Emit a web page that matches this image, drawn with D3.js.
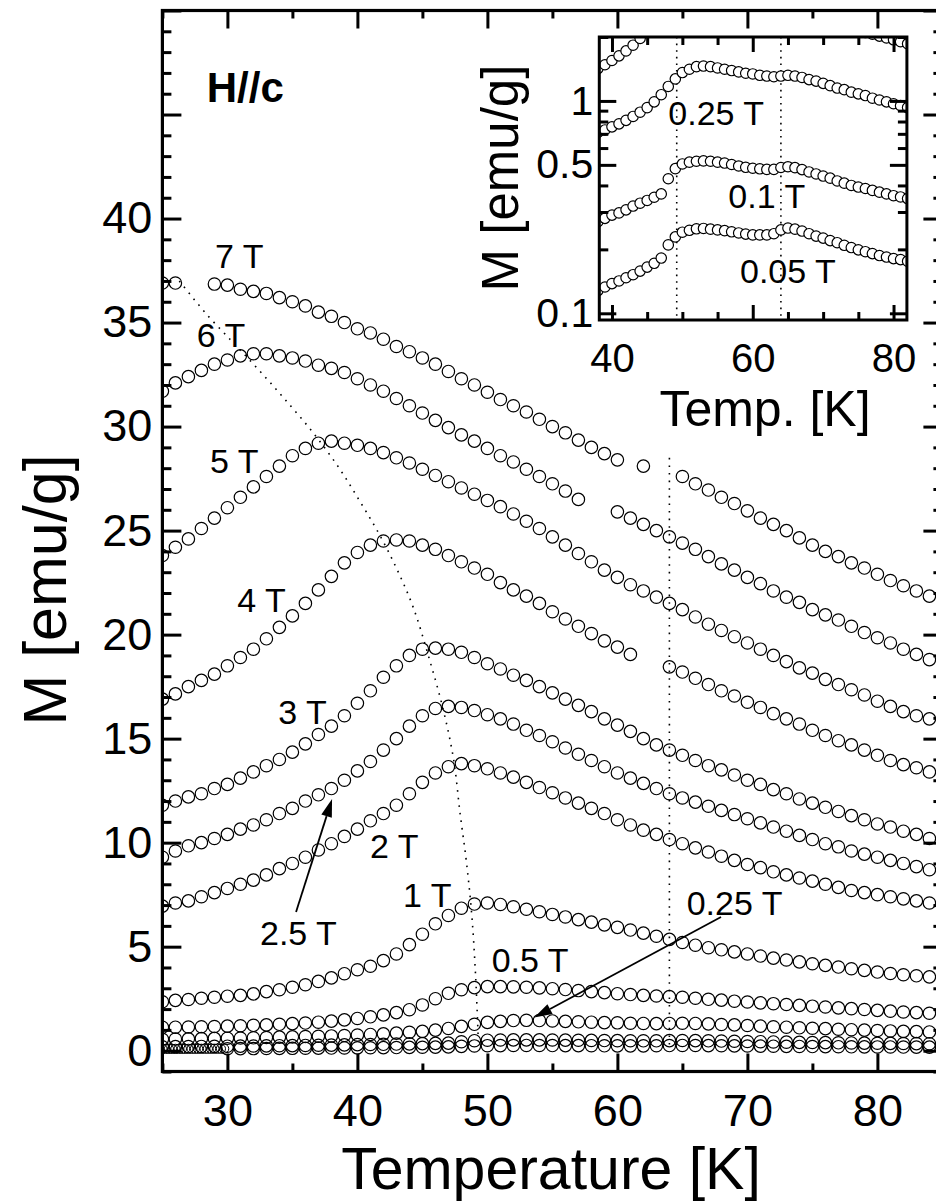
<!DOCTYPE html>
<html>
<head>
<meta charset="utf-8">
<script src="https://cdn.jsdelivr.net/npm/d3@7/dist/d3.min.js"></script>
<style>
  body { margin: 0; background: #fff; }
  svg { display: block; }
  text { font-family: "Liberation Sans", Arial, Helvetica, sans-serif; fill: #000; }
</style>
</head>
<body>
<svg id="chart" width="936" height="1202"></svg>
<script>
// Temperature grid of the magnetization sweeps (K)
const temps = [25,26,27,28,29,30,31,32,33,34,35,36,37,38,39,40,41,42,43,44,
               45,46,47,48,49,50,51,52,53,54,55,56,57,58,59,60,61,62,63,64,
               65,66,67,68,69,70,71,72,73,74,75,76,77,78,79,80,81,82,83,84];

// M (emu/g) for each applied field, H // c; null = no point recorded
const m7T = [36.9,36.9,null,null,36.85,36.8,36.6,36.5,36.4,36.2,36.0,35.8,35.5,35.3,35.0,34.7,34.5,34.2,33.85,33.6,
             33.3,33.0,32.65,32.3,32.0,31.65,31.3,31.0,30.7,30.35,30.0,29.7,29.35,29.0,28.7,28.4,null,28.1,null,null,
             27.6,27.25,26.95,26.6,26.3,25.95,25.6,25.3,25.0,24.65,24.3,24.0,23.75,23.45,23.2,22.9,22.6,22.35,22.1,21.85];
const m6T = [31.7,32.1,32.4,32.7,33.0,33.2,33.4,33.5,33.5,33.4,33.3,33.15,32.95,32.8,32.6,32.3,32.0,31.7,31.35,31.0,
             30.65,30.3,29.95,29.6,29.3,28.95,28.6,28.3,27.95,27.6,27.25,26.9,26.5,null,null,25.9,25.6,25.3,25.0,24.7,
             24.4,24.1,23.75,23.4,23.1,22.75,22.45,22.1,21.8,21.55,21.2,20.95,20.7,20.4,20.1,19.85,19.6,19.3,19.05,18.8];
const m5T = [23.8,24.2,24.6,25.1,25.6,26.1,26.6,27.1,27.6,28.1,28.6,28.95,29.2,29.3,29.2,29.1,28.95,28.75,28.5,28.25,
             27.95,27.65,27.35,27.05,26.75,26.45,26.15,25.8,25.45,25.1,24.7,24.3,23.9,23.5,23.1,22.75,22.4,22.1,21.8,21.5,
             21.2,20.85,20.5,20.2,19.9,19.6,19.3,19.0,18.7,18.4,18.15,17.85,17.6,17.35,17.1,16.8,16.55,16.3,16.1,15.95];
const m4T = [16.9,17.15,17.5,17.8,18.1,18.5,18.9,19.3,19.8,20.35,20.9,21.5,22.15,22.8,23.45,23.95,24.3,24.5,24.55,24.5,
             24.3,24.1,23.8,23.5,23.2,22.9,22.5,22.15,21.85,21.5,21.1,20.75,20.4,20.05,19.7,19.4,19.05,null,null,18.45,
             18.2,17.9,17.6,17.3,17.05,16.75,16.5,16.2,15.95,15.7,15.4,15.15,14.9,14.7,14.45,14.2,13.95,13.75,13.6,13.4];
const m3T = [11.8,12.0,12.2,12.35,12.6,12.8,13.1,13.4,13.7,14.0,14.35,14.75,15.2,15.6,16.1,16.7,17.3,17.95,18.5,19.0,
             19.3,19.35,19.3,19.15,18.9,18.6,18.35,18.05,17.8,17.5,17.2,16.9,16.6,16.3,15.95,15.65,15.35,15.0,14.7,14.45,
             14.2,13.95,13.7,13.5,13.25,13.0,12.8,12.55,12.35,12.1,11.9,11.7,11.5,11.3,11.1,10.9,10.75,10.55,10.4,10.2];
const m2p5T = [9.3,9.6,9.85,10.0,10.2,10.4,10.65,10.85,11.1,11.4,11.65,12.0,12.3,12.6,13.0,13.45,13.9,14.45,15.0,15.6,
               16.1,16.45,16.55,16.5,16.35,16.15,15.95,15.7,15.4,15.15,14.85,14.55,14.25,13.95,13.65,13.35,13.1,12.85,12.6,12.35,
               12.15,11.95,11.75,11.55,11.35,11.15,10.95,10.75,10.55,10.35,10.15,9.95,9.8,9.6,9.45,9.3,9.15,9.0,8.85,8.7];
const m2T = [6.95,7.1,7.2,7.4,7.6,7.8,8.0,8.2,8.45,8.75,9.0,9.3,9.65,9.95,10.3,10.65,11.05,11.4,11.8,12.35,
             12.9,13.35,13.65,13.8,13.7,13.55,13.35,13.15,12.9,12.65,12.4,12.15,11.9,11.65,11.4,11.1,10.85,10.6,10.4,10.15,
             9.95,9.75,9.55,9.35,9.15,8.95,8.8,8.6,8.45,8.3,8.15,8.0,7.85,7.7,7.6,7.5,7.4,7.3,7.2,7.1];
const m1T = [2.35,2.42,2.46,2.52,2.57,2.62,2.66,2.73,2.84,2.93,3.05,3.17,3.33,3.5,3.7,3.89,4.06,4.33,4.65,5.1,
             5.6,6.1,6.5,6.85,7.05,7.1,7.03,6.92,6.8,6.68,6.55,6.43,6.3,6.18,6.05,5.93,5.8,5.65,5.5,5.35,
             5.2,5.07,4.95,4.85,4.75,4.65,4.55,4.45,4.36,4.27,4.18,4.1,4.02,3.94,3.86,3.78,3.71,3.65,3.6,3.55];
const m0p5T = [1.13,1.13,1.14,1.15,1.16,1.18,1.2,1.22,1.24,1.27,1.3,1.33,1.37,1.42,1.48,1.55,1.63,1.72,1.83,1.97,
               2.2,2.5,2.76,2.93,3.03,3.08,3.08,3.07,3.05,3.02,2.98,2.94,2.89,2.84,2.79,2.74,2.7,2.66,2.63,2.6,
               2.57,2.52,2.47,2.43,2.38,2.34,2.3,2.26,2.22,2.18,2.14,2.1,2.06,2.02,1.98,1.94,1.9,1.86,1.83,1.8];
const m0p25T = [0.55,0.56,0.57,0.58,0.59,0.6,0.61,0.62,0.635,0.65,0.665,0.68,0.695,0.71,0.73,0.755,0.78,0.81,0.845,0.885,
                0.93,0.99,1.07,1.17,1.27,1.36,1.41,1.45,1.46,1.45,1.43,1.41,1.39,1.37,1.35,1.34,1.32,1.31,1.3,1.31,
                1.32,1.31,1.29,1.26,1.24,1.21,1.18,1.15,1.13,1.1,1.08,1.06,1.03,1.01,0.99,0.97,0.95,0.93,0.915,0.9];
const m0p1T = [0.19,0.195,0.2,0.205,0.21,0.215,0.22,0.225,0.232,0.239,0.246,0.253,0.261,0.27,0.28,0.29,0.297,0.307,0.32,0.33,
               0.34,0.352,0.365,0.43,0.48,0.505,0.515,0.52,0.522,0.52,0.515,0.51,0.502,0.494,0.487,0.482,0.479,0.476,0.476,0.486,
               0.49,0.485,0.475,0.463,0.453,0.443,0.433,0.42,0.41,0.4,0.393,0.387,0.379,0.372,0.365,0.358,0.353,0.347,0.342,0.337];
const m0p05T = [null,null,null,null,null,0.096,0.099,0.102,0.106,0.11,0.114,0.118,0.123,0.128,0.133,0.138,0.142,0.147,0.152,0.158,
                0.165,0.172,0.182,0.21,0.229,0.241,0.246,0.25,0.251,0.249,0.247,0.245,0.242,0.239,0.236,0.234,0.234,0.234,0.237,0.247,
                0.252,0.249,0.244,0.237,0.231,0.226,0.22,0.215,0.209,0.204,0.199,0.195,0.191,0.187,0.184,0.181,0.179,0.176,0.174,0.172];
// 0.05 T start of the sweep, recorded with a finer temperature step
const fineT = [25.0,25.25,25.5,25.75,26.0,26.25,26.5,26.75,27.0,27.25,27.5,27.75,28.0,28.25,28.5,28.75,29.0,29.25,29.5,29.75];
const m0p05TFine = [0.085,0.085,0.086,0.086,0.087,0.087,0.088,0.088,0.089,0.089,0.09,0.09,0.091,0.091,0.092,0.092,0.093,0.093,0.094,0.095];

const mainSeries = [m7T, m6T, m5T, m4T, m3T, m2p5T, m2T, m1T, m0p5T, m0p25T, m0p1T, m0p05T];
const insetSeries = [m0p5T, m0p25T, m0p1T, m0p05T];

// Locus of the magnetization maxima (guide to the eye)
const peakLocusT = [26.3,28.4,30.5,32.3,34.3,36.6,38.6,40.2,41.7,43.0,44.3,45.5,46.6,47.4,47.9,48.4,48.8,49.1,49.3];
const peakLocusM = [37.0,35.4,34.0,32.8,31.4,29.7,28.0,26.4,24.8,23.2,21.3,18.9,16.4,14.0,11.4,9.0,6.5,3.5,0.5];
// Second transition (K) and its extent in M
const transitionT = [49.2, 64];
const mainVerticalT = 64, mainVerticalM = [0.2, 28.5];

// Axis ticks
const xMajor = [30,40,50,60,70,80];
const xMinor = [25,35,45,55,65,75,85];
const yMajor = [0,5,10,15,20,25,30,35,40,45,50];
const yLabelled = [0,5,10,15,20,25,30,35,40];
const yMinor = d3.range(-1, 51).filter(v => v % 5 !== 0);
const insetXMajor = [40,60,80];
const insetXMinor = [45,50,55,65,70,75];
const insetYMajor = [0.1,0.5,1];
const insetYMinor = [0.2,0.3,0.4,0.6,0.7,0.8,0.9,2];

// Field annotations (data coordinates of text start / baseline)
const fieldLabels = [
  {text:"7 T", T:29.05, M:37.62}, {text:"6 T", T:27.64, M:33.84},
  {text:"5 T", T:28.66, M:27.78}, {text:"4 T", T:30.76, M:21.10},
  {text:"3 T", T:33.92, M:15.70}, {text:"2.5 T", T:32.51, M:5.08},
  {text:"2 T", T:40.97, M:9.25}, {text:"1 T", T:43.51, M:6.92},
  {text:"0.5 T", T:50.33, M:3.76}, {text:"0.25 T", T:65.33, M:6.52}
];
const arrows = [
  {from:[35.28, 6.67], to:[38.05, 12.10]},
  {from:[67.97, 6.43], to:[53.6, 1.59]}
];
const insetLabels = [
  {text:"0.25 T", T:48.0, M:0.77}, {text:"0.1 T", T:56.53, M:0.312}, {text:"0.05 T", T:58.19, M:0.1384}
];

const svg = d3.select("#chart");

// ---------- main panel ----------
const x = d3.scaleLinear().domain([25, 85]).range([162.4, 942.4]);
const y = d3.scaleLinear().domain([-1, 50]).range([1071.5, 10.5]);

const defs = svg.append("defs");
defs.append("clipPath").attr("id", "mainClip")
  .append("rect").attr("x", x(25)).attr("y", y(50)).attr("width", x(85) - x(25)).attr("height", y(-1) - y(50));

const plot = svg.append("g").attr("clip-path", "url(#mainClip)");

mainSeries.forEach(vals => {
  const pts = temps.map((t, i) => ({t, m: vals[i]})).filter(d => d.m !== null);
  plot.append("g").selectAll("circle").data(pts).join("circle")
    .attr("cx", d => x(d.t)).attr("cy", d => y(d.m)).attr("r", 6.2)
    .attr("fill", "none").attr("stroke", "#000").attr("stroke-width", 1.2);
});
plot.append("g").selectAll("circle").data(fineT.map((t, i) => ({t, m: m0p05TFine[i]}))).join("circle")
  .attr("cx", d => x(d.t)).attr("cy", d => y(d.m)).attr("r", 4.6)
  .attr("fill", "none").attr("stroke", "#000").attr("stroke-width", 1.0);

// dotted guides
plot.append("path")
  .datum(peakLocusT.map((t, i) => [t, peakLocusM[i]]))
  .attr("d", d3.line().x(d => x(d[0])).y(d => y(d[1])).curve(d3.curveCatmullRom))
  .attr("fill", "none").attr("stroke", "#000").attr("stroke-width", 1.6)
  .attr("stroke-dasharray", "1.6 6");
plot.append("line")
  .attr("x1", x(mainVerticalT)).attr("x2", x(mainVerticalT))
  .attr("y1", y(mainVerticalM[1])).attr("y2", y(mainVerticalM[0]))
  .attr("stroke", "#000").attr("stroke-width", 1.6).attr("stroke-dasharray", "1.6 6");

// axes with inward ticks on all four sides
function styleAxis(g, fontSize) {
  g.select(".domain").remove();
  g.selectAll(".tick line").attr("stroke", "#000").attr("stroke-width", 3);
  g.selectAll(".tick text").attr("font-size", fontSize).attr("fill", "#000");
}
const tickFont = 45;
svg.append("g").attr("transform", `translate(0,${y(-1)})`)
  .call(d3.axisBottom(x).tickValues(xMajor).tickSize(-18).tickPadding(22.5).tickFormat(d3.format("d")))
  .call(g => styleAxis(g, tickFont));
svg.append("g").attr("transform", `translate(0,${y(-1)})`)
  .call(d3.axisBottom(x).tickValues(xMinor).tickSize(-8).tickFormat(""))
  .call(g => styleAxis(g, tickFont));
svg.append("g").attr("transform", `translate(0,${y(50)})`)
  .call(d3.axisTop(x).tickValues(xMajor).tickSize(-18).tickFormat(""))
  .call(g => styleAxis(g, tickFont));
svg.append("g").attr("transform", `translate(0,${y(50)})`)
  .call(d3.axisTop(x).tickValues(xMinor).tickSize(-8).tickFormat(""))
  .call(g => styleAxis(g, tickFont));
svg.append("g").attr("transform", `translate(${x(25)},0)`)
  .call(d3.axisLeft(y).tickValues(yMajor).tickSize(-19).tickPadding(10)
    .tickFormat(d => yLabelled.includes(d) ? d3.format("d")(d) : ""))
  .call(g => styleAxis(g, tickFont));
svg.append("g").attr("transform", `translate(${x(25)},0)`)
  .call(d3.axisLeft(y).tickValues(yMinor).tickSize(-9).tickFormat(""))
  .call(g => styleAxis(g, tickFont));
svg.append("g").attr("transform", `translate(${x(85)},0)`)
  .call(d3.axisRight(y).tickValues(yMajor).tickSize(-19).tickFormat(""))
  .call(g => styleAxis(g, tickFont));
svg.append("g").attr("transform", `translate(${x(85)},0)`)
  .call(d3.axisRight(y).tickValues(yMinor).tickSize(-9).tickFormat(""))
  .call(g => styleAxis(g, tickFont));

svg.append("rect")
  .attr("x", x(25)).attr("y", y(50)).attr("width", x(85) - x(25)).attr("height", y(-1) - y(50))
  .attr("fill", "none").attr("stroke", "#000").attr("stroke-width", 3.2);

svg.append("text").attr("x", 551).attr("y", 1189).attr("text-anchor", "middle")
  .attr("font-size", 59).text("Temperature [K]");
svg.append("text").attr("transform", "translate(66,590) rotate(-90)").attr("text-anchor", "middle")
  .attr("font-size", 61).text("M [emu/g]");

svg.append("text").attr("x", x(28.41)).attr("y", y(45.62))
  .attr("font-size", 42).attr("font-weight", "bold").text("H//c");

svg.append("g").selectAll("text").data(fieldLabels).join("text")
  .attr("x", d => x(d.T)).attr("y", d => y(d.M)).attr("font-size", 34).text(d => d.text);

// arrows with filled heads
arrows.forEach(a => {
  const x1 = x(a.from[0]), y1 = y(a.from[1]), x2 = x(a.to[0]), y2 = y(a.to[1]);
  const ang = Math.atan2(y2 - y1, x2 - x1), len = 18, half = 5.5;
  const bx = x2 - len * Math.cos(ang), by = y2 - len * Math.sin(ang);
  svg.append("line").attr("x1", x1).attr("y1", y1).attr("x2", bx).attr("y2", by)
    .attr("stroke", "#000").attr("stroke-width", 1.8);
  const px = -Math.sin(ang) * half, py = Math.cos(ang) * half;
  svg.append("path").attr("d", `M${x2},${y2}L${bx + px},${by + py}L${bx - px},${by - py}Z`).attr("fill", "#000");
});

// ---------- inset (log scale) ----------
const xi = d3.scaleLinear().domain([38.2, 81.9]).range([599.3, 906.9]);
const yi = d3.scaleLog().domain([0.093, 2.0]).range([320, 37]);

svg.append("rect").attr("x", xi(38.2)).attr("y", yi(2)).attr("width", xi(81.9) - xi(38.2))
  .attr("height", yi(0.093) - yi(2)).attr("fill", "#fff");
defs.append("clipPath").attr("id", "insetClip")
  .append("rect").attr("x", xi(38.2)).attr("y", yi(2)).attr("width", xi(81.9) - xi(38.2))
  .attr("height", yi(0.093) - yi(2));
const inset = svg.append("g").attr("clip-path", "url(#insetClip)");

transitionT.forEach(t => {
  inset.append("line").attr("x1", xi(t)).attr("x2", xi(t)).attr("y1", yi(2)).attr("y2", yi(0.093))
    .attr("stroke", "#000").attr("stroke-width", 1.6).attr("stroke-dasharray", "1.6 5");
});
insetSeries.forEach(vals => {
  const pts = temps.map((t, i) => ({t, m: vals[i]})).filter(d => d.m !== null && d.t >= 37);
  inset.append("g").selectAll("circle").data(pts).join("circle")
    .attr("cx", d => xi(d.t)).attr("cy", d => yi(d.m)).attr("r", 5.2)
    .attr("fill", "#fff").attr("stroke", "#000").attr("stroke-width", 1.2);
});

const insetFont = 40;
svg.append("g").attr("transform", `translate(0,${yi(0.093)})`)
  .call(d3.axisBottom(xi).tickValues(insetXMajor).tickSize(-15).tickPadding(24).tickFormat(d3.format("d")))
  .call(g => styleAxis(g, insetFont));
svg.append("g").attr("transform", `translate(0,${yi(0.093)})`)
  .call(d3.axisBottom(xi).tickValues(insetXMinor).tickSize(-8).tickFormat(""))
  .call(g => styleAxis(g, insetFont));
svg.append("g").attr("transform", `translate(0,${yi(2)})`)
  .call(d3.axisTop(xi).tickValues(insetXMajor).tickSize(-15).tickFormat(""))
  .call(g => styleAxis(g, insetFont));
svg.append("g").attr("transform", `translate(0,${yi(2)})`)
  .call(d3.axisTop(xi).tickValues(insetXMinor).tickSize(-8).tickFormat(""))
  .call(g => styleAxis(g, insetFont));
svg.append("g").attr("transform", `translate(${xi(38.2)},0)`)
  .call(d3.axisLeft(yi).tickValues(insetYMajor).tickSize(-17).tickPadding(6).tickFormat(d => String(d)))
  .call(g => styleAxis(g, 41));
svg.append("g").attr("transform", `translate(${xi(38.2)},0)`)
  .call(d3.axisLeft(yi).tickValues(insetYMinor).tickSize(-9).tickFormat(""))
  .call(g => styleAxis(g, 41));
svg.append("g").attr("transform", `translate(${xi(81.9)},0)`)
  .call(d3.axisRight(yi).tickValues(insetYMajor).tickSize(-17).tickFormat(""))
  .call(g => styleAxis(g, 41));
svg.append("g").attr("transform", `translate(${xi(81.9)},0)`)
  .call(d3.axisRight(yi).tickValues(insetYMinor).tickSize(-9).tickFormat(""))
  .call(g => styleAxis(g, 41));

svg.append("rect").attr("x", xi(38.2)).attr("y", yi(2)).attr("width", xi(81.9) - xi(38.2))
  .attr("height", yi(0.093) - yi(2)).attr("fill", "none").attr("stroke", "#000").attr("stroke-width", 3);

svg.append("g").selectAll("text").data(insetLabels).join("text")
  .attr("x", d => xi(d.T)).attr("y", d => yi(d.M)).attr("font-size", 34).text(d => d.text);

svg.append("text").attr("x", 765).attr("y", 426).attr("text-anchor", "middle")
  .attr("font-size", 50).text("Temp. [K]");
svg.append("text").attr("transform", "translate(518,178) rotate(-90)").attr("text-anchor", "middle")
  .attr("font-size", 51).text("M [emu/g]");
</script>
</body>
</html>
